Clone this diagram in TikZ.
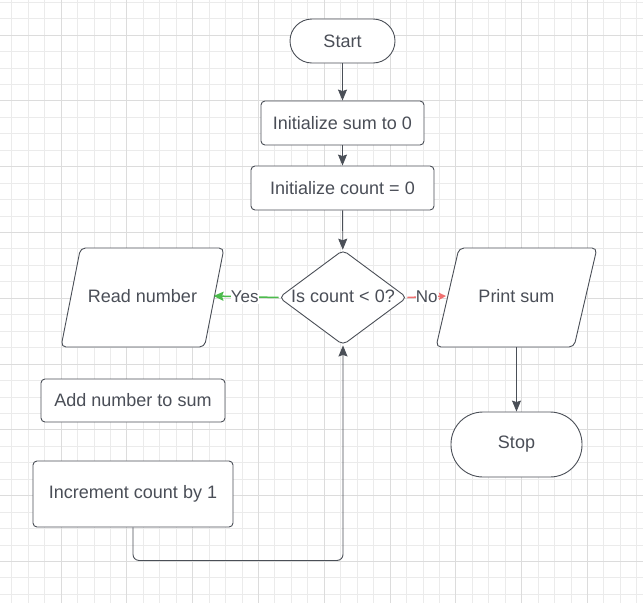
\documentclass[tikz,border=0pt]{standalone}
\usepackage{fontspec}
\setmainfont{Liberation Sans}
\usetikzlibrary{shapes.geometric,arrows.meta,calc}
\definecolor{gridminor}{HTML}{EBEBEB}
\definecolor{gridmajor}{HTML}{DCDCDC}
\definecolor{edge}{HTML}{4A4F57}
\definecolor{txt}{HTML}{4A4E57}
\definecolor{yesgreen}{HTML}{4CBB4C}
\definecolor{nored}{HTML}{F07070}
\tikzset{
  base/.style={draw=edge, line width=0.9pt, fill=white, text=txt, font=\fontsize{18}{21}\selectfont, inner sep=0pt},
  procbox/.style={base, rectangle, rounded corners=4pt},
  termbox/.style={base, rectangle},
  ioshape/.style={draw=edge, line width=0.9pt, fill=white, rounded corners=5pt},
  iotext/.style={text=txt, font=\fontsize{18}{21}\selectfont, inner sep=0pt},
  decbox/.style={base, diamond, rounded corners=5pt},
  flow/.style={draw=edge, line width=0.9pt, -{Stealth[length=11pt,width=9pt,inset=1.5pt]}},
  edgelabel/.style={fill=white, inner xsep=0pt, inner ysep=1pt, font=\fontsize{17}{20}\selectfont, text=txt}
}
\begin{document}
\begin{tikzpicture}[x=1pt,y=-1pt]
\useasboundingbox (0,0) rectangle (643,603);
\fill[white] (0,0) rectangle (643,603);
% grid
\foreach \i in {-4,...,36} {
  \draw[gridminor, line width=0.8pt] ({61+16.45*\i},0) -- ({61+16.45*\i},603);
}
\foreach \j in {-2,...,36} {
  \draw[gridminor, line width=0.8pt] (0,{35+16.45*\j}) -- (643,{35+16.45*\j});
}
\foreach \i in {-1,...,9} {
  \draw[gridmajor, line width=0.8pt] ({61+65.8*\i},0) -- ({61+65.8*\i},603);
}
\foreach \j in {-1,...,9} {
  \draw[gridmajor, line width=0.8pt] (0,{35+65.8*\j}) -- (643,{35+65.8*\j});
}
% nodes
\node[termbox, rounded corners=22pt, minimum width=105pt, minimum height=44pt] (start) at (342.5,41) {Start};
\node[procbox, minimum width=163pt, minimum height=44pt] (initsum) at (342.5,123) {Initialize sum to 0};
\node[procbox, minimum width=183pt, minimum height=44pt] (initcount) at (342.5,188) {Initialize count = 0};
\node[decbox, minimum width=128pt, minimum height=95pt] (dec) at (343,297.5) {};
\node[iotext] (dectext) at (343,296) {Is count < 0?};
% parallelograms
\draw[ioshape] (61,347) -- (80.5,248) -- (224,248) -- (204.5,347) -- cycle;
\node[iotext] (read) at (142.5,296) {Read number};
\draw[ioshape] (436,347) -- (459,248) -- (597,248) -- (574,347) -- cycle;
\node[iotext] (print) at (516.5,296) {Print sum};
\coordinate (readR) at (213.5,296);
\coordinate (printL) at (446,296);
\coordinate (printB) at (516.5,347);
\node[termbox, rounded corners=32pt, minimum width=131pt, minimum height=65pt] (stop) at (516.5,444.5) {Stop};
\node[procbox, minimum width=184pt, minimum height=43pt] (add) at (133,400.5) {Add number to sum};
\node[procbox, minimum width=200pt, minimum height=66pt] (inc) at (133,494) {Increment count by 1};
% connectors
\draw[flow] (start) -- (initsum);
\draw[flow] (initsum) -- (initcount);
\draw[flow] (initcount) -- (dec);
\draw[color=yesgreen, line width=1.5pt, -{Stealth[length=10pt,width=9pt,inset=1.5pt]}] (dec.west) -- node[edgelabel, pos=0.52] (yes) {Yes} (readR);
\draw[color=nored, line width=1.5pt, -{Stealth[length=7pt,width=7pt,inset=1pt]}] (dec.east) -- node[edgelabel, pos=0.5] (no) {No} (printL);
\draw[flow] (printB) -- (stop);
\draw[flow, rounded corners=6pt] (inc.south) -- ++(0,33) -| (dec.south);
\end{tikzpicture}
\end{document}
